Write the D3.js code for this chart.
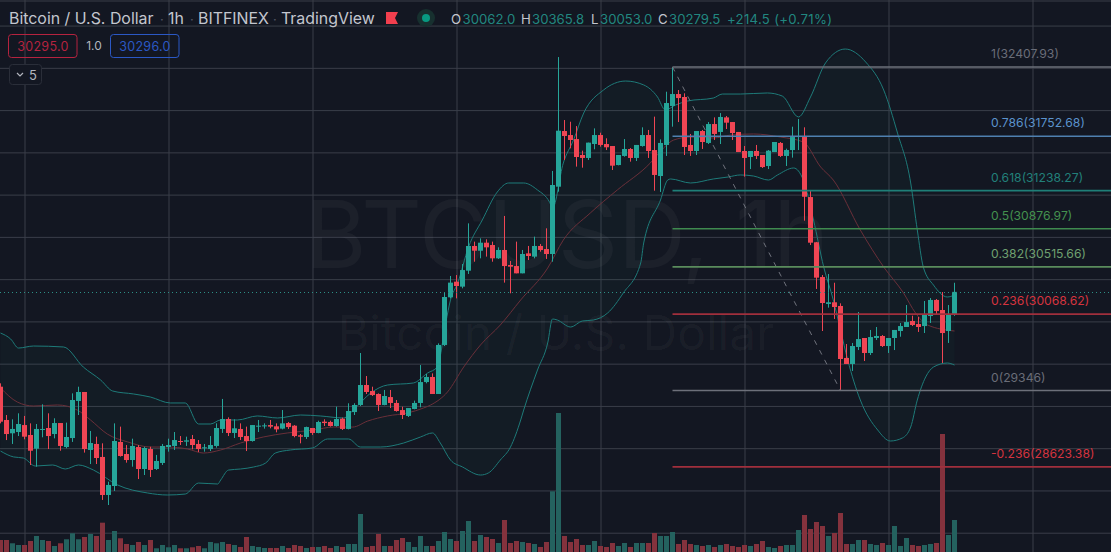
<!DOCTYPE html>
<html>
<head>
<meta charset="utf-8">
<title>BTCUSD 1h</title>
<script src="https://cdn.jsdelivr.net/npm/d3@7"></script>
<style>
  html, body { margin: 0; padding: 0; background: #131722; overflow: hidden; }
  svg { display: block; font-family: Inter, "Noto Sans", sans-serif; }
</style>
</head>
<body>
<script>
// Hourly BTC/USD candles, oldest first
const opens = [
  29382,29067,28941,28953,29019,28925,28795,28975,28991,28934,
  29038,28811,28896,29247,29332,28783,28840,28717,28357,28442,
  28859,28745,28688,28811,28603,28792,28603,28660,28811,28821,
  28868,28862,28887,28840,28799,28792,28821,28982,29076,28944,
  28982,28915,28868,29007,29010,29019,29007,28985,29038,29013,
  28922,28906,28991,28944,29051,29048,29010,29079,28982,29142,
  29209,29398,29341,29313,29209,29284,29228,29161,29105,29171,
  29228,29426,29474,29313,29777,30228,30376,30329,30480,30714,
  30669,30745,30723,30597,30676,30534,30524,30455,30644,30613,
  30714,30685,30638,31275,31802,31764,31726,31575,31547,31679,
  31764,31679,31660,31480,31566,31632,31547,31660,31764,31622,
  31376,31670,32039,32152,32124,31670,31613,31802,31689,31868,
  31793,31931,31887,31793,31613,31556,31613,31575,31471,31603,
  31689,31566,31622,31745,31745,31177,30749,30420,30165,30181,
  30146,29654,29597,29758,29843,29701,29843,29862,29767,29843,
  29909,29947,30004,29975,29956,30051,30203,30108,29909,30062
];
const closes = [
  29051,28934,28982,29029,28909,28776,28982,28982,28915,29038,
  28821,28906,29256,29332,28792,28849,28707,28357,28452,28868,
  28726,28688,28821,28603,28802,28594,28679,28821,28830,28877,
  28859,28874,28830,28792,28808,28830,28991,29076,28944,28988,
  28906,28868,29019,29013,29016,29004,28978,29035,29000,28915,
  28909,29000,28944,29048,29038,29010,29076,28982,29152,29209,
  29398,29332,29303,29209,29294,29228,29152,29114,29180,29228,
  29426,29474,29313,29777,30231,30367,30335,30486,30714,30669,
  30745,30701,30597,30676,30524,30518,30455,30638,30619,30714,
  30676,30638,31291,31805,31755,31717,31556,31547,31692,31764,
  31670,31648,31474,31575,31632,31547,31670,31764,31613,31386,
  31689,32067,32152,32114,31651,31613,31802,31698,31868,31774,
  31935,31881,31783,31603,31547,31613,31566,31461,31616,31698,
  31566,31622,31745,31755,31180,30745,30414,30174,30181,30136,
  29644,29597,29767,29833,29701,29852,29862,29767,29843,29919,
  29956,29994,29966,29947,30061,30203,30098,29890,30061,30279.5
];
const highs = [
  29414,29114,29073,29130,29105,29035,29029,29215,29130,29083,
  29038,29042,29319,29382,29332,28963,28909,28846,28483,29035,
  29004,28830,28890,28830,28814,28814,28736,28840,28890,28953,
  28915,28909,28925,28877,28840,28915,29035,29266,29092,29073,
  29035,29004,29019,29067,29035,29067,29035,29161,29048,29019,
  28934,29004,28991,29060,29073,29060,29193,29089,29225,29225,
  29701,29483,29382,29319,29351,29351,29256,29193,29180,29250,
  29587,29502,29508,29792,30269,30430,30439,30543,30928,30755,
  30786,30777,30755,30701,30998,30572,30755,30676,30714,30802,
  30733,30881,31424,32502,31906,31890,31849,31616,31692,31827,
  31786,31733,31660,31575,31726,31641,31670,31837,31812,31938,
  31723,32174,32408,32190,32159,31774,31802,31812,31887,31931,
  31972,31944,31887,31793,31660,31613,31670,31575,31622,31698,
  31698,31635,31843,31916,31837,31244,30752,30439,30449,30366,
  30171,29786,29796,30089,29843,29919,29947,29871,29843,29919,
  29985,30155,30054,30042,30193,30221,30212,30278,30155,30365.8
];
const lows = [
  29035,28877,28840,28915,28884,28641,28625,28903,28792,28893,
  28776,28799,28859,29114,28758,28650,28650,28310,28262,28395,
  28720,28663,28625,28508,28546,28527,28594,28641,28767,28783,
  28830,28821,28789,28764,28767,28773,28805,28944,28915,28896,
  28877,28773,28862,28953,28985,28988,28950,28978,28982,28903,
  28846,28887,28925,28941,29010,29004,29004,28972,28978,29114,
  29199,29313,29294,29152,29206,29180,29146,29076,29095,29168,
  29187,29414,29313,29313,29767,30218,30218,30313,30449,30565,
  30597,30613,30565,30591,30367,30266,30455,30455,30581,30597,
  30660,30591,30565,31228,31528,31638,31465,31455,31528,31629,
  31654,31622,31433,31477,31559,31512,31518,31654,31547,31237,
  31225,31566,31843,31887,31575,31566,31575,31632,31679,31717,
  31679,31821,31717,31603,31370,31442,31537,31452,31442,31603,
  31556,31471,31550,31622,30953,30723,30307,29909,30130,30023,
  29346,29597,29531,29729,29625,29682,29824,29758,29701,29729,
  29855,29947,29956,29900,29890,29985,30070,29606,29796,30053
];
const volumes = [
  300,300,218,175,175,275,400,300,275,150,
  218,318,468,318,375,450,400,733,300,525,
  343,200,175,250,175,300,93,175,118,175,
  93,93,118,150,93,250,218,250,200,175,
  125,375,150,125,100,100,100,150,100,175,
  150,100,125,125,150,100,150,125,200,200,
  950,125,150,450,150,150,300,350,250,125,
  400,150,150,275,500,325,275,525,775,275,
  425,375,325,225,800,225,275,250,225,200,
  125,250,1518,3475,400,250,325,175,175,275,
  150,125,225,150,225,125,225,225,225,475,
  400,400,500,200,300,200,175,150,175,125,
  175,200,150,125,175,150,200,275,125,100,
  150,175,175,550,925,575,750,650,400,475,
  975,200,200,300,300,200,175,225,175,650,
  150,350,175,150,175,200,225,2950,425,800
];

// Bollinger band readings: position in bars, and price at that position
const upperBars = [0,1.7,3,5.5,10.5,13.8,16.7,18.7,22.2,25,28.3,30.8,33,35,36.7,39.5,42.8,46.2,50,53.3,57.2,58.8,61.7,64.5,68.8,71.2,72.8,74.2,75,76.2,78,80.3,82.8,84.7,87.2,89.5,91.5,92,93.8,95.5,97.2,100.5,104.2,107.2,109.5,110.8,112.5,114.5,118.8,120.3,123.3,127.8,130.3,133,135,137.5,140.8,144.2,147.2,149.5,151.7,152.8,153.8,155.5,157.8,159];
const upperPrices = [29890,29833,29748,29767,29758,29568,29445,29341,29313,29284,29228,29228,29029,29029,29067,29067,29105,29086,29114,29105,29086,29161,29322,29398,29417,29512,29568,29985,30203,30363,30704,30960,31225,31310,31310,31244,31130,31073,31499,31717,31972,32190,32275,32238,32124,32001,32048,32086,32114,32152,32152,32162,32133,31935,32124,32446,32578,32455,32190,31783,31310,30865,30515,30344,30231,30250];
const lowerBars = [0,2.2,3.8,5.8,8.7,10.8,13,15.5,19.5,24.5,27.8,30.8,33,36.2,36.7,38,40,42.2,44.2,45.8,48.3,52,54.5,58,60,63.3,67.2,70,72,73.3,75,77,80,81.3,83.3,85,86.7,87.2,89.5,91.2,92,92.8,95,97,98.8,101.2,103.8,106.7,107.2,110,111.2,111.7,115,118.8,121.3,123.3,125.5,128,129.5,132.2,133.8,135.5,137.2,138.8,140,141.2,143.3,146.2,148.3,150.3,151.7,152.8,154.2,155.5,157.8,159];
const lowerPrices = [28773,28717,28707,28631,28641,28603,28641,28593,28452,28376,28357,28366,28470,28461,28499,28593,28603,28622,28660,28754,28783,28802,28887,28887,28811,28811,28849,28906,28944,28849,28688,28622,28546,28565,28688,28811,29067,29161,29540,29796,30023,30013,29947,30004,30013,30080,30269,30553,30742,31149,31338,31348,31310,31348,31367,31386,31376,31338,31386,31452,31338,30960,30515,30203,29919,29635,29256,28972,28868,28896,29000,29256,29474,29568,29606,29587];
const basisBars = [0,2.8,5.5,9.5,12.8,15,17.8,21.2,25,27.8,31.2,33.8,36.7,40,43.8,47.8,52.2,55.5,58.7,61.2,64.5,67.8,70.5,71.7,74.5,77.2,80,83.3,86.7,91.2,93.8,98.3,102.8,108.3,110.5,112.2,115,118.8,121.7,125.5,130,133.8,136.7,138.8,143.3,147.2,150.5,152.5,154.5,159];
const basisPrices = [29370,29237,29199,29209,29161,29067,28934,28859,28811,28811,28792,28754,28783,28849,28906,28944,28972,29000,29000,29057,29105,29133,29180,29209,29332,29568,29777,29966,30203,30505,30770,31026,31244,31499,31641,31717,31745,31736,31764,31774,31745,31698,31461,31338,30865,30515,30269,30080,29966,29909];

// Fibonacci retracement levels with their label and line colours
const fibRatios = ["1","0.786","0.618","0.5","0.382","0.236","0","-0.236"];
const fibPrices = [32407.93,31752.68,31238.27,30876.97,30515.66,30068.62,29346,28623.38];
const fibLineColors = ["#6d707a","#4f80b0","#1f7f78","#3f8a4f","#5a8c5c","#a12f3c","#6d707a","#a12f3c"];
const fibTextColors = ["#6a6d78","#5b93cc","#22807a","#44914f","#6fa070","#d5343f","#6a6d78","#d5343f"];

// Gridline positions and the legend readings
const gridPrices = [32800,32400,32000,31600,31200,30800,30400,30000,29600,29200,28800,28400,28000];
const gridBars = [4,28,52,76,100,124,148,172];
const titleParts = ["Bitcoin / U.S. Dollar","1h","BITFINEX","TradingView"];
const ohlcKeys = ["O","H","L","C"];
const ohlcValues = ["30062.0","30365.8","30053.0","30279.5"];
const changeText = "+214.5 (+0.71%)";
const bidText = "30295.0", askText = "30296.0", spreadText = "1.0", hiddenCount = "5";
const lastPrice = 30279.5;
const trendFromBar = 112, trendToBar = 140;

const width = 1111, height = 552;
const UP = "#26a69a", DOWN = "#f04654";
const VOL_UP = "#24625f", VOL_DOWN = "#84323d";

const x = d3.scaleLinear().domain([0, 1]).range([0.5, 6.5]);
const y = d3.scaleLinear().domain([29346, 32407.93]).range([390.5, 67]);
const yVol = d3.scaleLinear().domain([0, 13800]).range([height, 0]);

const svg = d3.select("body").append("svg").attr("width", width).attr("height", height);
svg.append("rect").attr("width", width).attr("height", height).attr("fill", "#131722");
svg.append("rect").attr("width", width).attr("height", 2).attr("fill", "#262a35");

// Grid, built from axes with full-length ticks
function styleGrid(g) {
  g.select(".domain").remove();
  g.selectAll("text").remove();
  g.selectAll("line").attr("stroke", "#3a3e49").attr("stroke-width", 1);
}
svg.append("g").attr("transform", `translate(0,${height})`)
  .call(d3.axisBottom(x).tickValues(gridBars).tickSize(-height).tickFormat(""))
  .call(styleGrid);
svg.append("g")
  .call(d3.axisLeft(y).tickValues(gridPrices).tickSize(-width).tickFormat(""))
  .call(styleGrid);

// Watermark
svg.append("text").attr("x", 567).attr("y", 268).attr("text-anchor", "middle")
  .attr("font-size", 94).attr("fill", "#ffffff").attr("fill-opacity", 0.04).text("BTCUSD, 1h");
svg.append("text").attr("x", 556).attr("y", 350).attr("text-anchor", "middle")
  .attr("font-size", 48).attr("fill", "#ffffff").attr("fill-opacity", 0.04).text("Bitcoin / U.S. Dollar");

// Bollinger bands
const upperPts = upperBars.map((b, i) => [b, upperPrices[i]]);
const lowerPts = lowerBars.map((b, i) => [b, lowerPrices[i]]);
const basisPts = basisBars.map((b, i) => [b, basisPrices[i]]);
const bandLine = d3.line().x(d => x(d[0])).y(d => y(d[1])).curve(d3.curveMonotoneX);
svg.append("path")
  .attr("d", d3.line().x(d => x(d[0])).y(d => y(d[1]))([...upperPts, ...lowerPts.slice().reverse()]))
  .attr("fill", "#26a69a").attr("fill-opacity", 0.035);

// Volume histogram
svg.append("g").selectAll("rect").data(volumes).join("rect")
  .attr("x", (d, i) => x(i) - 2.5)
  .attr("width", 5)
  .attr("y", d => yVol(d))
  .attr("height", d => yVol(0) - yVol(d))
  .attr("fill", (d, i) => closes[i] >= opens[i] ? VOL_UP : VOL_DOWN);

[[upperPts, "#1e7b79"], [lowerPts, "#1e7b79"], [basisPts, "#6a2f39"]].forEach(([pts, color]) => {
  svg.append("path").attr("d", bandLine(pts)).attr("fill", "none")
    .attr("stroke", color).attr("stroke-width", 1);
});

// Candles
const bars = d3.range(opens.length);
const candles = svg.append("g");
candles.selectAll("line").data(bars).join("line")
  .attr("x1", x).attr("x2", x)
  .attr("y1", i => y(highs[i])).attr("y2", i => y(lows[i]))
  .attr("stroke", i => closes[i] >= opens[i] ? UP : DOWN);
candles.selectAll("rect").data(bars).join("rect")
  .attr("x", i => x(i) - 2.5)
  .attr("width", 5)
  .attr("y", i => y(Math.max(opens[i], closes[i])))
  .attr("height", i => Math.max(1, Math.abs(y(opens[i]) - y(closes[i]))))
  .attr("fill", i => closes[i] >= opens[i] ? UP : DOWN);

// Last price marker line
svg.append("line").attr("x1", 0).attr("x2", width)
  .attr("y1", Math.round(y(lastPrice)) + 0.5).attr("y2", Math.round(y(lastPrice)) + 0.5)
  .attr("stroke", "#2d8f86").attr("stroke-dasharray", "1 3");

// Fibonacci retracement: diagonal trend line, levels and labels
svg.append("line")
  .attr("x1", x(trendFromBar)).attr("y1", y(fibPrices[0]))
  .attr("x2", x(trendToBar)).attr("y2", y(fibPrices[6]))
  .attr("stroke", "#70737d").attr("stroke-width", 1).attr("stroke-dasharray", "5 6");
const fib = svg.append("g");
fib.selectAll("line").data(fibPrices).join("line")
  .attr("x1", x(trendFromBar)).attr("x2", width)
  .attr("y1", d => y(d)).attr("y2", d => y(d))
  .attr("stroke", (d, i) => fibLineColors[i]).attr("stroke-width", 1.6);
fib.selectAll("text").data(fibPrices).join("text")
  .attr("x", 991).attr("y", d => y(d) - 9)
  .attr("font-size", 12.2)
  .attr("fill", (d, i) => fibTextColors[i])
  .text((d, i) => `${fibRatios[i]}(${d})`);

// Legend: symbol title
const legend = svg.append("g");
const titleX = [9, 168, 198, 281];
legend.selectAll("text.title").data(titleParts).join("text").attr("class", "title")
  .attr("x", (d, i) => titleX[i]).attr("y", 24)
  .attr("font-size", 15.9).attr("fill", "#c3c6ce").text(d => d);
[160, 190, 273].forEach(cx => legend.append("text").attr("x", cx).attr("y", 24)
  .attr("font-size", 13).attr("fill", "#555965").text("·"));

// Flag and market status marks
legend.append("path").attr("d", d3.line()([[386,12],[398,12],[395,18],[398,24],[386,24]])).attr("fill", "#f23f4e");
legend.append("circle").attr("cx", 426).attr("cy", 18).attr("r", 9).attr("fill", "#17302f");
legend.append("circle").attr("cx", 426).attr("cy", 18).attr("r", 4).attr("fill", "#089981");

// OHLC readout
const ohlcKeyX = [451, 521, 591, 658];
const ohlcValX = [462.5, 532, 600, 669];
ohlcKeys.forEach((k, i) => {
  legend.append("text").attr("x", ohlcKeyX[i]).attr("y", 24).attr("font-size", 13.2).attr("fill", "#c3c6ce").text(k);
  legend.append("text").attr("x", ohlcValX[i]).attr("y", 24).attr("font-size", 13.2).attr("fill", UP).attr("fill-opacity", 0.8).text(ohlcValues[i]);
});
legend.append("text").attr("x", 727).attr("y", 24).attr("font-size", 13.2).attr("fill", UP).attr("fill-opacity", 0.8).attr("letter-spacing", 0.3).text(changeText);

// Bid and ask boxes
[[8.5, "#b5233f", bidText], [110.5, "#2b58c4", askText]].forEach(([bx, color, label]) => {
  legend.append("rect").attr("x", bx).attr("y", 34.5).attr("width", 68.5).attr("height", 23).attr("rx", 3)
    .attr("fill", "none").attr("stroke", color);
  legend.append("text").attr("x", bx + 34.5).attr("y", 51).attr("text-anchor", "middle")
    .attr("font-size", 12.5).attr("fill", color).attr("letter-spacing", 0.3).text(label);
});
legend.append("text").attr("x", 94).attr("y", 50).attr("text-anchor", "middle")
  .attr("font-size", 12).attr("fill", "#b2b5be").text(spreadText);

// Collapsed indicators button
legend.append("rect").attr("x", 9.5).attr("y", 64.5).attr("width", 32).attr("height", 20).attr("rx", 3)
  .attr("fill", "#131722").attr("stroke", "#2a2e39");
legend.append("path").attr("d", d3.line()([[17,73],[20,76],[23,73]])).attr("fill", "none").attr("stroke", "#b2b5be").attr("stroke-width", 1.2);
legend.append("text").attr("x", 29).attr("y", 80).attr("font-size", 13).attr("fill", "#b2b5be").text(hiddenCount);
</script>
</body>
</html>
